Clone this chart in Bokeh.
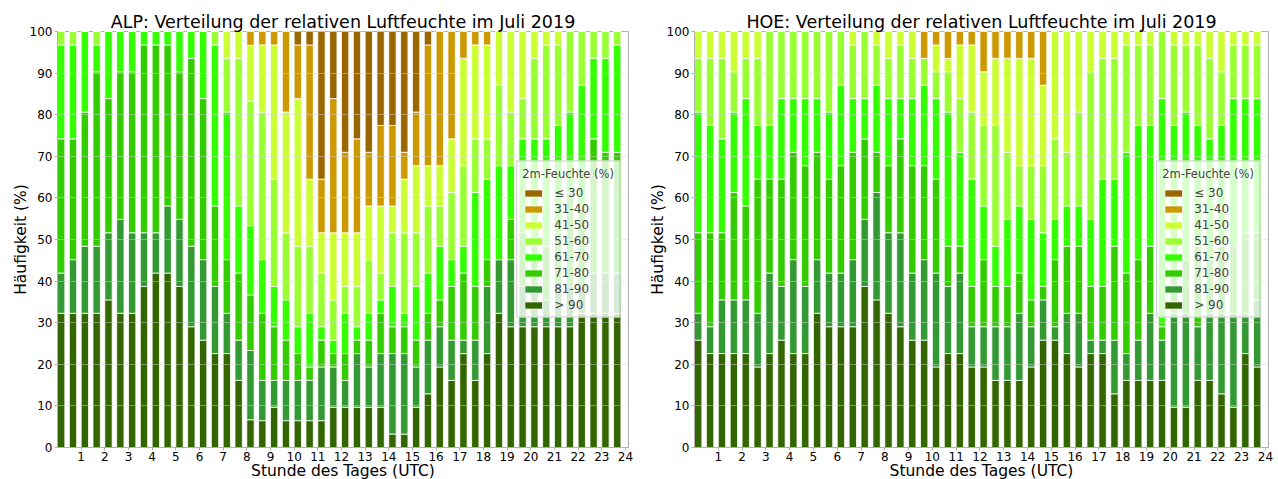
from bokeh.plotting import figure
from bokeh.layouts import row
from bokeh.models import ColumnDataSource, Range1d, Legend, LegendItem, FixedTicker
from bokeh.embed import file_html
from bokeh.resources import INLINE

# ---------------- data (counts of days per half-hour slot, July 2019) ----------------
slot_start_h = [i * 0.5 for i in range(48)]          # start of each half-hour slot (UTC)
hour_ticks = list(range(1, 25))
pct_ticks = list(range(0, 101, 10))

classes = ["> 90", "81-90", "71-80", "61-70", "51-60", "41-50", "31-40", "\u2264 30"]
class_colors = ["#336600", "#339933", "#33cc00", "#33ff00", "#99ff33", "#ccff33", "#cc9900", "#996600"]

# ALP
alp_gt90 = [10,10,10,10,11,10,10,12,13,13,12,9,8,7,7,5,2,2,3,2,2,2,2,3,3,3,3,3,1,1,3,4,6,5,7,5,7,10,9,9,9,9,9,9,10,10,10,10]
alp_81_90 = [3,4,5,5,5,7,6,4,3,5,5,6,6,5,3,3,5,3,2,3,3,3,4,3,2,4,3,4,6,6,3,4,3,3,1,3,5,4,5,3,3,2,3,3,2,3,3,3]
alp_71_80 = [10,9,10,13,10,11,12,14,14,12,11,14,12,6,4,5,4,5,4,3,2,1,2,1,2,1,2,3,2,2,2,2,2,4,5,4,2,0,3,4,3,4,4,7,6,10,9,9]
alp_61_70 = [7,7,6,2,5,3,3,1,1,1,3,2,5,12,11,5,5,4,3,3,2,4,1,1,3,1,2,1,3,1,4,3,4,2,2,7,6,7,4,7,8,8,8,6,9,6,7,8]
alp_51_60 = [1,1,0,1,0,0,0,0,0,0,0,0,0,1,4,11,9,11,8,5,6,5,4,3,2,3,4,2,4,6,4,5,3,5,6,4,3,6,4,3,6,7,6,6,4,2,2,1]
alp_41_50 = [0,0,0,0,0,0,0,0,0,0,0,0,0,0,2,2,4,5,10,9,11,5,3,5,4,4,4,5,2,4,5,3,3,4,8,7,7,4,6,5,2,1,1,0,0,0,0,0]
alp_31_40 = [0,0,0,0,0,0,0,0,0,0,0,0,0,0,0,0,1,1,1,6,4,10,4,10,6,7,4,6,6,2,4,9,10,8,2,1,1,0,0,0,0,0,0,0,0,0,0,0]
alp_le30 = [0,0,0,0,0,0,0,0,0,0,0,0,0,0,0,0,0,0,0,0,1,1,11,5,9,8,9,7,7,9,6,1,0,0,0,0,0,0,0,0,0,0,0,0,0,0,0,0]

# HOE
hoe_gt90 = [8,7,7,7,7,6,7,8,7,7,10,9,9,9,12,11,10,9,8,8,6,7,7,6,6,5,5,5,6,8,8,7,6,7,7,4,5,5,5,5,3,3,5,5,4,3,7,6]
hoe_81_90 = [2,2,4,4,4,4,6,4,7,5,4,4,4,5,5,8,6,7,5,6,7,5,6,3,3,4,4,5,3,3,1,3,4,1,1,4,2,3,5,3,7,7,4,5,6,7,3,5]
hoe_71_80 = [6,7,5,8,7,10,7,8,8,9,8,7,8,8,6,3,5,7,8,7,7,3,2,3,5,3,3,3,2,1,5,5,5,4,4,7,6,6,5,1,3,4,6,4,5,5,6,5]
hoe_61_70 = [9,8,7,6,8,4,4,6,4,5,4,5,6,4,3,5,5,3,5,6,6,10,7,8,4,3,5,5,6,4,3,3,3,5,8,5,9,10,9,17,11,11,9,9,9,11,10,10]
hoe_51_60 = [4,5,6,3,3,5,7,5,5,5,5,6,4,4,5,3,3,4,3,2,2,3,4,5,6,9,5,3,4,5,6,4,7,11,9,9,8,6,6,5,6,5,6,6,4,4,4,4]
hoe_41_50 = [2,2,2,3,2,2,0,0,0,0,0,0,0,1,0,1,2,1,2,0,2,1,4,5,4,5,7,8,8,6,8,9,6,3,2,2,1,1,1,0,1,1,1,2,3,1,1,1]
hoe_31_40 = [0,0,0,0,0,0,0,0,0,0,0,0,0,0,0,0,0,0,0,2,1,2,1,1,3,2,2,2,2,4,0,0,0,0,0,0,0,0,0,0,0,0,0,0,0,0,0,0]
hoe_le30 = [0] * 48

alp_series = [alp_gt90, alp_81_90, alp_71_80, alp_61_70, alp_51_60, alp_41_50, alp_31_40, alp_le30]
hoe_series = [hoe_gt90, hoe_81_90, hoe_71_80, hoe_61_70, hoe_51_60, hoe_41_50, hoe_31_40, hoe_le30]

FONT = "DejaVu Sans"
BAR_W = 0.31
SPINE = "#b0b0b0"


def make_panel(station, series, border_left, frame_w, border_right):
    keys = ["c%d" % k for k in range(len(classes))]
    totals = [sum(s[i] for s in series) for i in range(len(slot_start_h))]
    data = {"x": [h + BAR_W / 2 for h in slot_start_h]}
    for key, s in zip(keys, series):
        data[key] = [100.0 * v / t for v, t in zip(s, totals)]
    src = ColumnDataSource(data)

    p = figure(frame_width=frame_w, frame_height=416,
               min_border_left=border_left, min_border_right=border_right,
               min_border_top=31, min_border_bottom=31,
               x_range=Range1d(0, 24.13), y_range=Range1d(0, 100),
               output_backend="svg", toolbar_location=None,
               title=station + ": Verteilung der relativen Luftfeuchte im Juli 2019")
    rs = p.vbar_stack(keys, x="x", width=BAR_W, color=class_colors,
                      line_color="white", line_width=0.8, source=src)

    p.title.text_font = FONT
    p.title.text_font_size = "17.5px"
    p.title.text_font_style = "normal"
    p.title.align = "center"
    p.title.standoff = 0
    p.title.text_color = "black"

    p.xaxis.ticker = FixedTicker(ticks=hour_ticks)
    p.yaxis.ticker = FixedTicker(ticks=pct_ticks)
    p.xaxis.axis_label = "Stunde des Tages (UTC)"
    p.yaxis.axis_label = "H\u00e4ufigkeit (%)"
    for ax in (p.xaxis, p.yaxis):
        ax.axis_label_text_font = FONT
        ax.axis_label_text_font_size = "15.5px"
        ax.axis_label_text_font_style = "normal"
        ax.axis_label_text_color = "black"
        ax.major_label_text_font = FONT
        ax.major_label_text_font_size = "12px"
        ax.major_label_text_color = "black"
        ax.axis_line_color = SPINE
        ax.major_tick_line_color = SPINE
        ax.major_tick_out = 3
        ax.major_tick_in = 0
        ax.minor_tick_line_color = None
    p.xaxis.major_label_standoff = 1
    p.xaxis.axis_label_standoff = -2
    p.yaxis.major_label_standoff = 2
    p.yaxis.axis_label_standoff = -3
    p.outline_line_color = SPINE
    p.xgrid.visible = False
    p.ygrid.grid_line_color = "#d8d8d8"
    p.ygrid.grid_line_alpha = 0.45
    p.ygrid.level = "overlay"
    p.background_fill_color = "white"

    items = [LegendItem(label=classes[k], renderers=[rs[k]]) for k in reversed(range(len(classes)))]
    legend = Legend(items=items, location="center_right", title="2m-Feuchte (%)")
    legend.margin = 8
    legend.padding = 5
    legend.spacing = 2
    legend.glyph_width = 22
    legend.glyph_height = 9
    legend.label_height = 12
    legend.label_width = 40
    legend.label_standoff = 10
    legend.label_text_font = FONT
    legend.label_text_font_size = "12px"
    legend.title_text_font = FONT
    legend.title_text_font_size = "11.5px"
    legend.title_text_font_style = "normal"
    legend.title_standoff = 5
    legend.background_fill_alpha = 0.8
    legend.border_line_color = "#cccccc"
    legend.border_line_alpha = 1.0
    p.add_layout(legend)
    return p


p_alp = make_panel("ALP", alp_series, 57, 571, 12)
p_hoe = make_panel("HOE", hoe_series, 54, 574, 6)
layout = row(p_alp, p_hoe)

open("out.html", "w").write(file_html(layout, INLINE))
